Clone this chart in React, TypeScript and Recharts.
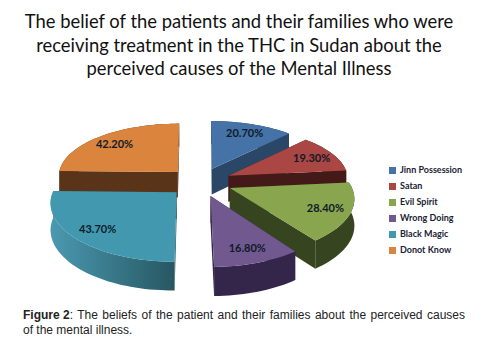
import { PieChart, Pie, Legend } from 'recharts';

const categories = ['Jinn Possession', 'Satan', 'Evil Spirit', 'Wrong Doing', 'Black Magic', 'Donot Know'];
const percents = [20.7, 19.3, 28.4, 16.8, 43.7, 42.2];
const topColors = ['#4572a7', '#aa4643', '#89a54e', '#71588f', '#4198af', '#db843d'];
const wallColors = ['#2a4768', '#431a18', '#374420', '#33264a', 'url(#tealWall)', '#5a3418'];

const titleLines = [
  'The belief of the patients and their families who were',
  'receiving treatment in the THC in Sudan about the',
  'perceived causes of the Mental Illness',
];

const tableData = categories.map((name, i) => ({ name, value: percents[i], fill: topColors[i] }));

const EXPLODE = 32;
const RAD = Math.PI / 180;

// flat pie coordinates -> tilted view, the front gets bigger than the back
function project(cx: number, cy: number, X: number, Y: number, drop = 0) {
  const sx = Y > 0 ? 1 + 0.0014 * Y : 1 + 0.0005 * Y;
  const sy = Y > 0 ? 1 + 0.00188 * Y : 1 + 0.0005 * Y;
  const depth = drop * (1 + 0.0008 * Y);
  return [cx + X * sx, cy + Y * 0.44 * sy + depth];
}

function slicePoint(p: any, angle: number, r: number, drop = 0) {
  const mid = (p.startAngle + p.endAngle) / 2;
  const X = EXPLODE * Math.cos(mid * RAD) + r * Math.cos(angle * RAD);
  const Y = -EXPLODE * Math.sin(mid * RAD) - r * Math.sin(angle * RAD);
  return project(p.cx, p.cy, X, Y, drop);
}

const toPath = (pts: number[][]) =>
  'M' + pts.map((q) => q[0].toFixed(1) + ',' + q[1].toFixed(1)).join('L') + 'Z';

function Slice3D(props: any) {
  const { startAngle, endAngle, outerRadius, name, onlyName, skipName } = props;
  if (onlyName && name !== onlyName) return <g />;
  if (skipName && name === skipName) return <g />;
  const i = categories.indexOf(name);
  const R = outerRadius;
  const D = 26;
  const steps = Math.ceil(Math.abs(endAngle - startAngle) / 2);
  const arc: number[] = [];
  for (let k = 0; k <= steps; k++) arc.push(startAngle + ((endAngle - startAngle) * k) / steps);

  const top = [slicePoint(props, 0, 0), ...arc.map((a) => slicePoint(props, a, R))];
  const rim = [
    ...arc.map((a) => slicePoint(props, a, R)),
    ...arc.slice().reverse().map((a) => slicePoint(props, a, R, D)),
  ];
  const wall = (a: number) => [
    slicePoint(props, 0, 0),
    slicePoint(props, a, R),
    slicePoint(props, a, R, D),
    slicePoint(props, 0, 0, D),
  ];
  const flat = i === 4 ? '#27575f' : wallColors[i];

  return (
    <g>
      <path d={toPath(wall(startAngle))} fill={flat} />
      <path d={toPath(wall(endAngle))} fill={flat} />
      <path d={toPath(rim)} fill={wallColors[i]} />
      <path d={toPath(top)} fill={topColors[i]} />
    </g>
  );
}

function PercentLabel(props: any) {
  const { name, value, startAngle, endAngle, outerRadius, cx, cy } = props;
  const mid = (startAngle + endAngle) / 2;
  const [x, y] = slicePoint({ cx, cy, startAngle, endAngle }, mid, outerRadius * 0.8);
  return (
    <text key={name} x={x} y={y} textAnchor="middle" dominantBaseline="central" fontFamily="Lato" fontWeight={700} fontSize={11} fill="#0f1a2a">
      {value.toFixed(2)}%
    </text>
  );
}

export default function App() {
  return (
    <div style={{ position: 'absolute', left: 0, top: 0, width: 478, height: 348, background: '#fff', overflow: 'hidden' }}>
      <div style={{ position: 'absolute', left: 0, top: 10, width: 478, textAlign: 'center', fontFamily: 'Lato', fontSize: 18.4, lineHeight: '23.5px', color: '#111' }}>
        {titleLines.map((t) => (
          <div key={t}>{t}</div>
        ))}
      </div>

      <div style={{ position: 'absolute', left: 0, top: 0 }}>
        <PieChart width={478} height={348} margin={{ top: 0, right: 0, bottom: 0, left: 0 }}>
          <defs>
            <linearGradient id="tealWall" x1="52" x2="177" y1="0" y2="0" gradientUnits="userSpaceOnUse">
              <stop offset="0" stopColor="#4a98b0" />
              <stop offset="1" stopColor="#265660" />
            </linearGradient>
          </defs>
          <Pie
            data={tableData}
            dataKey="value"
            nameKey="name"
            cx={200}
            cy={182}
            outerRadius={120}
            startAngle={90}
            endAngle={-270}
            legendType="none"
            isAnimationActive={false}
            shape={(p: any) => <Slice3D {...p} onlyName="Donot Know" />}
          />
          <Pie
            data={tableData}
            dataKey="value"
            nameKey="name"
            cx={200}
            cy={182}
            outerRadius={120}
            startAngle={90}
            endAngle={-270}
            legendType="square"
            isAnimationActive={false}
            labelLine={false}
            label={PercentLabel}
            shape={(p: any) => <Slice3D {...p} skipName="Donot Know" />}
          />
          <Legend
            layout="vertical"
            iconSize={7}
            itemSorter={null}
            wrapperStyle={{ position: 'absolute', left: 389, top: 162, width: 89, fontFamily: 'Lato', fontWeight: 700, fontSize: 9, lineHeight: '16px' }}
            formatter={(v: string) => <span style={{ color: '#1a2233' }}>{v}</span>}
          />
        </PieChart>
      </div>

      <div style={{ position: 'absolute', left: 23, top: 308, width: 442, fontFamily: 'Liberation Sans', fontSize: 12, lineHeight: '15px', color: '#222' }}>
        <div style={{ display: 'flex', justifyContent: 'space-between' }}>
          <b>Figure 2</b>
          <span style={{ flex: 1, textAlign: 'justify', textAlignLast: 'justify' }}>: The beliefs of the patient and their families about the perceived causes</span>
        </div>
        <div>of the mental illness.</div>
      </div>
    </div>
  );
}
